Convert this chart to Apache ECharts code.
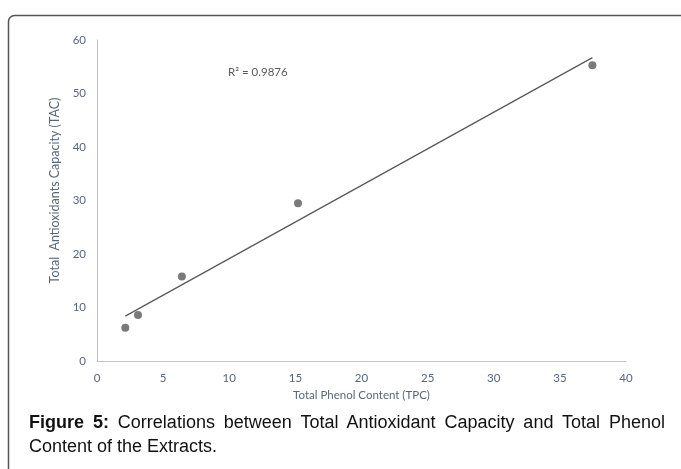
<!DOCTYPE html>
<html>
<head>
<meta charset="utf-8">
<script src="https://cdn.jsdelivr.net/npm/echarts@6/dist/echarts.min.js"></script>
<style>
  html, body { margin: 0; padding: 0; background: #fff; }
  #wrap { position: relative; width: 681px; height: 469px; overflow: hidden; }
  #chart { position: absolute; left: 0; top: 0; width: 681px; height: 469px; }
  #caption {
    position: absolute; left: 29px; top: 410px; width: 636px;
    font-family: "Liberation Sans", Arial, sans-serif; font-size: 18px;
    line-height: 24px; color: #111; text-align: justify;
  }
</style>
</head>
<body>
<div id="wrap">
  <div id="chart"></div>
  <div id="caption"><b>Figure 5:</b> Correlations between Total Antioxidant Capacity and Total Phenol Content of the Extracts.</div>
</div>
<script>
// Data
const tpc = [2.14, 3.1, 6.42, 15.2, 37.46];      // Total Phenol Content (x)
const tac = [6.2, 8.6, 15.8, 29.5, 55.3];        // Total Antioxidants Capacity (y)
const trendX = [2.14, 37.46];                    // trendline end points (x)
const trendY = [8.4, 56.7];                      // trendline end points (y)
const xTicks = [0, 5, 10, 15, 20, 25, 30, 35, 40];
const yTicks = [0, 10, 20, 30, 40, 50, 60];
const r2Label = 'R² = 0.9876';
const xTitle = 'Total Phenol Content (TPC)';
const yTitle = 'Total  Antioxidants Capacity (TAC)';

const chart = echarts.init(document.getElementById('chart'));
const labelColor = '#5b6579';
const axisLineColor = '#b7c2d4';
const font = 'Lato, "Open Sans", sans-serif';

chart.setOption({
  animation: false,
  grid: { left: 97, right: 55, top: 40, bottom: 108 },
  xAxis: {
    type: 'value', min: xTicks[0], max: xTicks[xTicks.length - 1], interval: xTicks[1] - xTicks[0],
    name: xTitle, nameLocation: 'middle', nameGap: 25,
    nameTextStyle: { color: labelColor, fontSize: 11.5, fontFamily: font },
    axisLine: { show: true, lineStyle: { color: axisLineColor, width: 1 } },
    axisTick: { show: false }, splitLine: { show: false },
    axisLabel: { color: labelColor, fontSize: 11.5, fontFamily: font, margin: 11 }
  },
  yAxis: {
    type: 'value', min: yTicks[0], max: yTicks[yTicks.length - 1], interval: yTicks[1] - yTicks[0],
    name: yTitle, nameLocation: 'middle', nameGap: 27,
    nameTextStyle: { color: labelColor, fontSize: 12.5, fontFamily: font, padding: [0, 0, 0, 20] },
    axisLine: { show: true, lineStyle: { color: axisLineColor, width: 1 } },
    axisTick: { show: false }, splitLine: { show: false },
    axisLabel: { color: labelColor, fontSize: 11.5, fontFamily: font, margin: 11 }
  },
  series: [
    {
      type: 'line', data: trendX.map((x, i) => [x, trendY[i]]),
      symbol: 'none', lineStyle: { color: '#5a5a5a', width: 1.3 }, z: 2
    },
    {
      type: 'scatter', data: tpc.map((x, i) => [x, tac[i]]),
      symbolSize: 8, itemStyle: { color: '#595959' }, z: 3
    }
  ],
  graphic: [
    {
      type: 'rect', shape: { x: 8.5, y: 15.5, width: 720, height: 500, r: 6 },
      style: { fill: 'none', stroke: '#555', lineWidth: 1.5 }, silent: true
    },
    {
      type: 'text', left: 228, top: 66,
      style: { text: r2Label, fill: '#595959', font: '11.5px ' + font }
    }
  ]
});
</script>
</body>
</html>
